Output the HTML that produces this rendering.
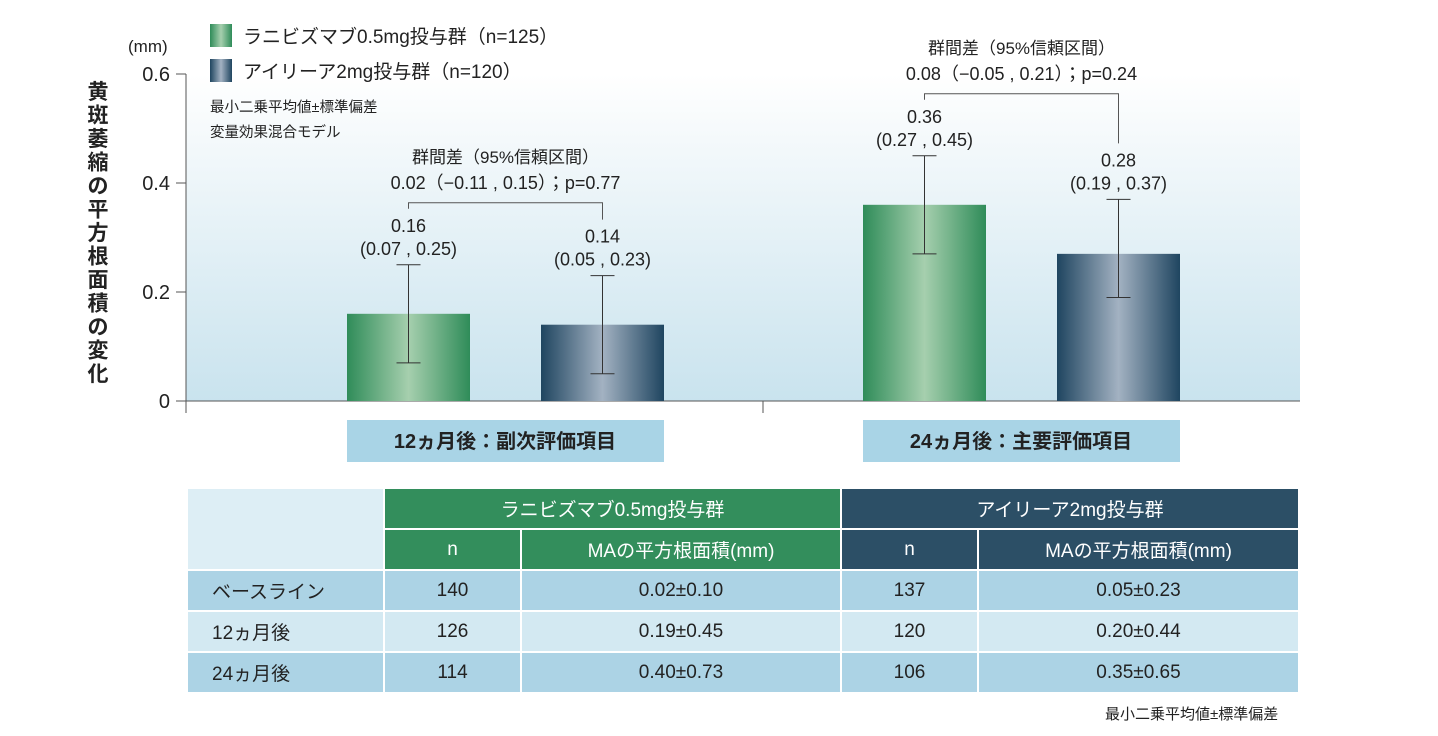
<!DOCTYPE html>
<html><head><meta charset="utf-8"><style>
body{margin:0;background:#fff;font-family:"Liberation Sans","Noto Sans CJK JP",sans-serif;color:#222}
svg text{font-family:"Liberation Sans","Noto Sans CJK JP",sans-serif}
table{position:absolute;left:186px;top:487px;border-collapse:collapse;width:1114px;font-size:19px;color:#222}
td{border:2px solid #fff;text-align:center;padding:0;height:39px}
.g{background:#338e5c;color:#fff}.b{background:#2c4f66;color:#fff}
.r1{background:#acd3e5}.r2{background:#d3e9f2}
</style></head><body>
<svg id="chart" width="1438" height="480" style="position:absolute;left:0;top:0">
<defs>
<linearGradient id="bg" x1="0" y1="0" x2="0" y2="1"><stop offset="0" stop-color="#fff"/><stop offset="0.2" stop-color="#f4f9fb"/><stop offset="1" stop-color="#c9e3ee"/></linearGradient>
<linearGradient id="gg" x1="0" x2="1"><stop offset="0" stop-color="#2f8c59"/><stop offset="0.5" stop-color="#a6cfae"/><stop offset="1" stop-color="#2f8c59"/></linearGradient>
<linearGradient id="bb" x1="0" x2="1"><stop offset="0" stop-color="#1f4560"/><stop offset="0.5" stop-color="#a3b2c2"/><stop offset="1" stop-color="#1f4560"/></linearGradient>
</defs>
<rect x="186" y="74" width="1114" height="327" fill="url(#bg)"/>
<g id="g"></g>
</svg>
<table>
<tr><td rowspan="2" style="background:#ddeef5;width:195px"></td><td colspan="2" class="g">ラニビズマブ0.5mg投与群</td><td colspan="2" class="b">アイリーア2mg投与群</td></tr>
<tr><td class="g" style="width:135px">n</td><td class="g" style="width:318px">MAの平方根面積(mm)</td><td class="b" style="width:135px">n</td><td class="b">MAの平方根面積(mm)</td></tr>
<tr class="r1"><td style="text-align:left;padding-left:24px">ベースライン</td><td>140</td><td>0.02±0.10</td><td>137</td><td>0.05±0.23</td></tr>
<tr class="r2"><td style="text-align:left;padding-left:24px">12ヵ月後</td><td>126</td><td>0.19±0.45</td><td>120</td><td>0.20±0.44</td></tr>
<tr class="r1"><td style="text-align:left;padding-left:24px">24ヵ月後</td><td>114</td><td>0.40±0.73</td><td>106</td><td>0.35±0.65</td></tr>
</table>
<div style="position:absolute;left:1105px;top:703px;font-size:15px">最小二乗平均値±標準偏差</div>
<script>
const categories=["12ヵ月後：副次評価項目","24ヵ月後：主要評価項目"];
const ranibizumab=[0.16,0.36];
const aflibercept=[0.14,0.27];
const ranLow=[0.07,0.27],ranHigh=[0.25,0.45];
const aflLow=[0.05,0.19],aflHigh=[0.23,0.37];
const ranLabels=["0.16","0.36"],aflLabels=["0.14","0.28"];
const diffLabels=["0.02（−0.11 , 0.15）；p=0.77","0.08（−0.05 , 0.21）；p=0.24"];
const yTicks=[0,0.2,0.4,0.6];
const NS="http://www.w3.org/2000/svg",g=document.getElementById('g');
const y=v=>401-v*545;
const groupX=i=>347+i*516;
function mk(t,a,txt){const e=document.createElementNS(NS,t);for(const k in a)e.setAttribute(k,a[k]);if(txt!==undefined)e.textContent=txt;g.appendChild(e);return e;}
let e;
e=mk('line',{x1:186,y1:74,x2:186,y2:413,stroke:'#555','stroke-width':1});

e=mk('line',{x1:176,y1:401,x2:1300,y2:401,stroke:'#555','stroke-width':1});

e=mk('line',{x1:763,y1:401,x2:763,y2:413,stroke:'#555'});

yTicks.forEach(t=>{e=mk('line',{x1:176,x2:186,y1:y(t),y2:y(t),stroke:'#555'});

e=mk('text',{x:170,y:y(t)+7,'text-anchor':'end','font-size':20,fill:'#222'},String(t));
});
e=mk('text',{x:128,y:52,'font-size':17,fill:'#222'},'(mm)');

"黄斑萎縮の平方根面積の変化".split('').forEach((c,i)=>{e=mk('text',{x:98,y:99+i*23.5,'text-anchor':'middle','font-size':21,'font-weight':'bold',fill:'#222'},c);
});
// legend
e=mk('rect',{x:210,y:24,width:22,height:23,fill:'url(#gg)'});
e=mk('text',{x:243,y:43,'font-size':19,fill:'#222'},'ラニビズマブ0.5mg投与群（n=125）');
e=mk('rect',{x:210,y:59,width:22,height:23,fill:'url(#bb)'});
e=mk('text',{x:243,y:78,'font-size':19,fill:'#222'},'アイリーア2mg投与群（n=120）');
e=mk('text',{x:210,y:112,'font-size':14.5,fill:'#222'},'最小二乗平均値±標準偏差');
e=mk('text',{x:210,y:137,'font-size':14.5,fill:'#222'},'変量効果混合モデル');
categories.forEach((c,i)=>{
 const x0=groupX(i),x1=x0+194,w=123;
 [[ranibizumab,ranLow,ranHigh,ranLabels,'url(#gg)',x0,'ranibizumab'],[aflibercept,aflLow,aflHigh,aflLabels,'url(#bb)',x1,'aflibercept']].forEach(s=>{
  const [v,lo,hi,lab,fill,x,nm]=s,cx=x+w/2;
  e=mk('rect',{x:x,y:y(v[i]),width:w,height:y(0)-y(v[i]),fill:fill});
  
  e=mk('path',{d:`M${cx} ${y(hi[i])}V${y(lo[i])}M${cx-12} ${y(hi[i])}h24M${cx-12} ${y(lo[i])}h24`,stroke:'#333',fill:'none','stroke-width':1});
  
  e=mk('text',{x:cx,y:y(hi[i])-33,'text-anchor':'middle','font-size':18,fill:'#222'},lab[i]);
  
  e=mk('text',{x:cx,y:y(hi[i])-10,'text-anchor':'middle','font-size':18,fill:'#222'},'('+lo[i].toFixed(2)+' , '+hi[i].toFixed(2)+')');
  
 });
 const cA=x0+w/2,cB=x1+w/2;
 const top=Math.min(y(ranHigh[i]),y(aflHigh[i]))-62;
 e=mk('path',{d:`M${cA} ${y(ranHigh[i])-56}V${top}H${cB}V${y(aflHigh[i])-56}`,stroke:'#555',fill:'none'});
 
 const mx=(cA+cB)/2;
 e=mk('text',{x:mx,y:top-40,'text-anchor':'middle','font-size':17,fill:'#222'},'群間差（95%信頼区間）');
 
 e=mk('text',{x:mx,y:top-14,'text-anchor':'middle','font-size':18,fill:'#222'},diffLabels[i]);
 
 e=mk('rect',{x:x0,y:420,width:317,height:42,fill:'#a9d4e6'});
 
 e=mk('text',{x:x0+158,y:448,'text-anchor':'middle','font-size':20,'font-weight':'bold',fill:'#222'},c);
 
});
</script>
</body></html>
